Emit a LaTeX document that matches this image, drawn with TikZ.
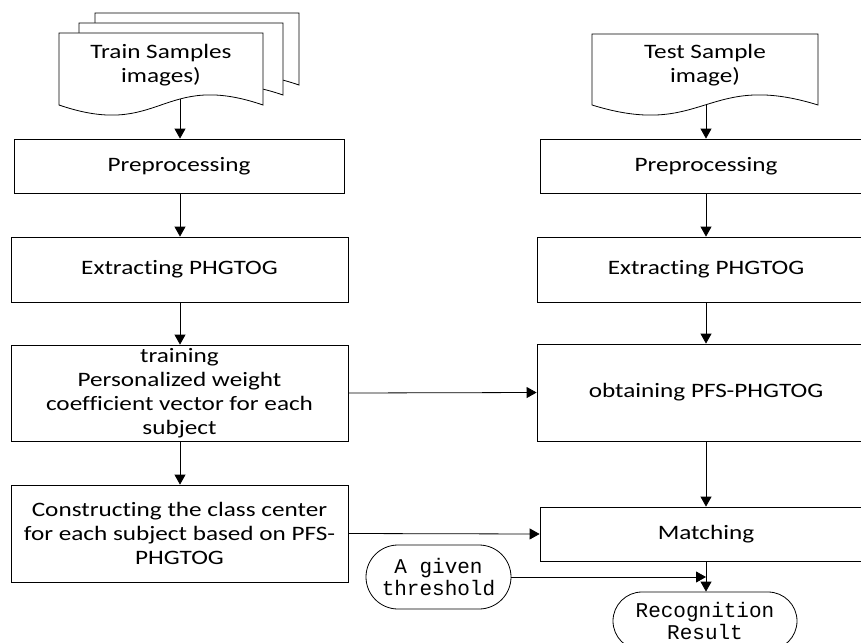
\documentclass[tikz,border=0pt]{standalone}
\usepackage{fontspec}
\setmainfont{Carlito}[FakeStretch=1.23,Ligatures={NoCommon}]
\newfontfamily\termfont{Liberation Mono}
\usetikzlibrary{arrows.meta,shapes.misc}
\tikzset{
  flowbox/.style={draw, line width=0.8pt, fill=white, align=center, inner sep=0pt,
    font=\fontsize{20.5}{24}\selectfont},
  termbox/.style={draw, line width=0.8pt, fill=white, rounded rectangle, align=center, inner sep=0pt,
    font=\termfont\fontsize{21}{22}\selectfont},
  docline/.style={draw, line width=0.8pt, fill=white},
  doctext/.style={align=center, inner sep=0pt, font=\fontsize{20.5}{24}\selectfont},
  flow/.style={line width=0.8pt, -{Triangle[length=10pt,width=11pt]}}
}
\begin{document}
\begin{tikzpicture}[x=1pt,y=-1pt]
\useasboundingbox (0,0) rectangle (861,642);
\clip (0,0) rectangle (861,642);
% left column
\node[flowbox, minimum width=330pt, minimum height=54pt] (pre1) at (179,166) {Preprocessing};
\node[flowbox, minimum width=337pt, minimum height=65pt] (ext1) at (179.5,269.5) {Extracting PHGTOG};
\node[flowbox, minimum width=337pt, minimum height=96pt] (train) at (179.5,393) {training\\Personalized weight\\coefficient vector for each\\subject};
\node[flowbox, minimum width=337pt, minimum height=97pt] (cons) at (179.5,533.5) {Constructing the class center\\for each subject based on PFS-\\PHGTOG};
% right column
\node[flowbox, minimum width=332pt, minimum height=54pt] (pre2) at (706,166) {Preprocessing};
\node[flowbox, minimum width=338pt, minimum height=65pt] (ext2) at (706,269.5) {Extracting PHGTOG};
\node[flowbox, minimum width=338pt, minimum height=97pt] (obt) at (706,392.5) {obtaining PFS-PHGTOG};
\node[flowbox, minimum width=332pt, minimum height=54pt] (match) at (706,534) {Matching};
% terminals
\node[termbox, minimum width=145pt, minimum height=64pt] (thr) at (438.5,577) {A given\\threshold};
\node[termbox, minimum width=184pt, minimum height=58pt] (res) at (705,621) {Recognition\\Result};
% connector sources inside documents
\coordinate (trainsrc) at (180,80);
\coordinate (testsrc) at (706,80);
% connectors
\draw[flow] (trainsrc) -- (pre1.north -| trainsrc);
\draw[flow] (pre1.south -| trainsrc) -- (ext1.north -| trainsrc);
\draw[flow] (ext1.south -| trainsrc) -- (train.north -| trainsrc);
\draw[flow] (train.south -| trainsrc) -- (cons.north -| trainsrc);
\draw[flow] (testsrc) -- (pre2.north);
\draw[flow] (pre2.south) -- (ext2.north);
\draw[flow] (ext2.south) -- (obt.north);
\draw[flow] (obt.south) -- (match.north);
\draw[flow] (match.south) -- (res.north -| match.south);
\draw[flow] (train.east) -- (obt.west);
\draw[flow] (cons.east) -- (match.west);
\draw[flow] (thr.east) -- (thr.east -| match.south);
% multi-document (train samples)
\draw[docline] (95,13) -- (299,13) -- (299,85) .. controls (197,50) and (197,120) .. (95,85) -- cycle;
\draw[docline] (79,23) -- (283,23) -- (283,95) .. controls (181,60) and (181,130) .. (79,95) -- cycle;
\draw[docline] (59,33) -- (263,33) -- (263,105) .. controls (161,70) and (161,140) .. (59,105) -- cycle;
\node[doctext] (traindoc) at (161,65) {Train Samples\\images)};
% document (test sample)
\draw[docline] (592,34) -- (818,34) -- (818,105) .. controls (705,70) and (705,140) .. (592,105) -- cycle;
\node[doctext] (testdoc) at (705,65) {Test Sample\\image)};
\end{tikzpicture}
\end{document}
